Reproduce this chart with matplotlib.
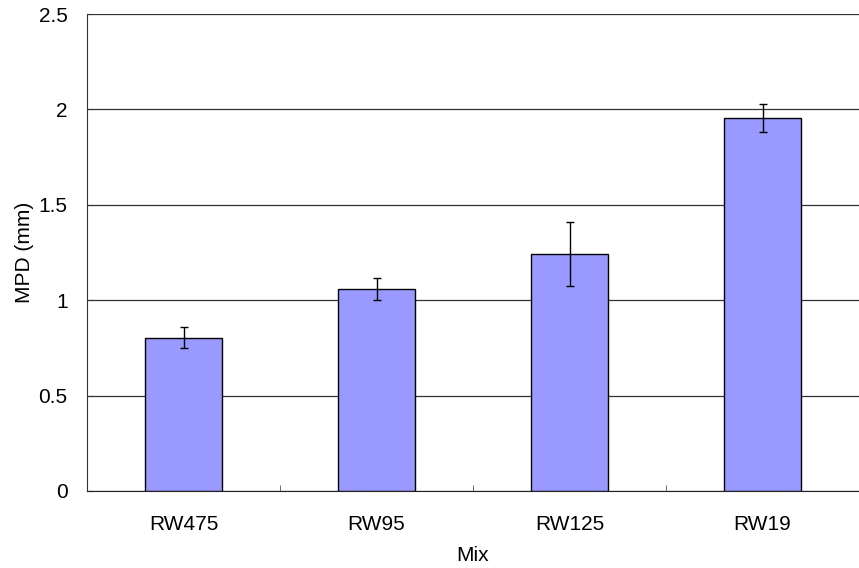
import matplotlib.pyplot as plt
import numpy as np

plt.rcParams["font.family"] = ["Liberation Sans", "DejaVu Sans"]

# data
mixes = ["RW475", "RW95", "RW125", "RW19"]
mpd = [0.802, 1.059, 1.242, 1.955]
mpd_err = [0.055, 0.058, 0.17, 0.075]
y_ticks = [0, 0.5, 1, 1.5, 2, 2.5]
y_tick_labels = ["0", "0.5", "1", "1.5", "2", "2.5"]

fig = plt.figure(figsize=(8.59, 5.68), dpi=100)
ax = fig.add_axes([87 / 859, 1 - 491 / 568, 1 - 87 / 859, (491 - 14) / 568])

x = np.arange(len(mixes))
ax.bar(x, mpd, width=0.4, color="#9999FF", edgecolor="black", linewidth=1.0,
       zorder=3)
ax.errorbar(x, mpd, yerr=mpd_err, fmt="none", ecolor="black", elinewidth=1.0,
            capsize=3, capthick=1.0, zorder=4)

ax.set_xlim(-0.5, len(mixes) - 0.5)
ax.set_ylim(0, 2.5)

# gridlines behind bars
ax.yaxis.grid(True, color="#333333", linewidth=0.9)
ax.set_axisbelow(True)

ax.set_yticks(y_ticks)
ax.set_yticklabels(y_tick_labels)
ax.set_xticks(x)
ax.set_xticklabels(mixes)
ax.tick_params(axis="x", length=0, pad=17, labelsize=15)
ax.tick_params(axis="y", direction="in", length=4, pad=14, labelsize=15,
               color="#333333")

# category separators as minor ticks
ax.set_xticks(x[:-1] + 0.5, minor=True)
ax.tick_params(axis="x", which="minor", direction="in", length=4,
               color="#555555")

for s in ["top", "right"]:
    ax.spines[s].set_visible(False)
ax.spines["left"].set_color("#333333")
ax.spines["bottom"].set_color("#222222")

ax.set_xlabel("Mix", fontsize=15, labelpad=9)
ax.set_ylabel("MPD (mm)", fontsize=15, labelpad=3)

fig.savefig("out.png", dpi=100)
